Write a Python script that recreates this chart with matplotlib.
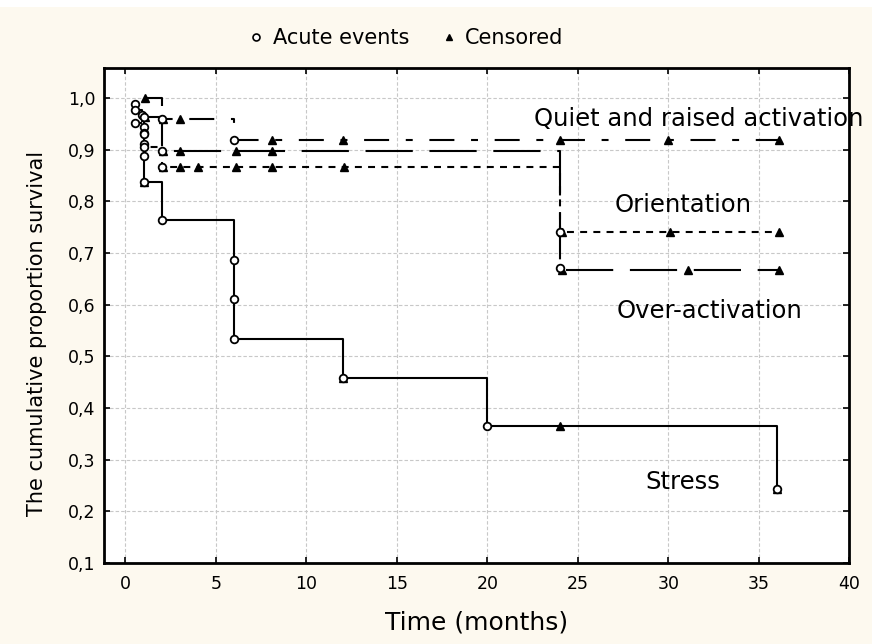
import matplotlib
matplotlib.use("Agg")
import matplotlib.pyplot as plt
from matplotlib.lines import Line2D
from matplotlib.patches import Rectangle
from matplotlib.ticker import FuncFormatter

plt.rcParams['font.family'] = ['DejaVu Sans']
plt.rcParams['lines.scale_dashes'] = False

# Kaplan-Meier points: time (months), cumulative survival, 1 = acute event / 0 = censored
stress_t = [0.5, 0.5, 0.9, 1.0, 1.0, 1.0, 1.0, 1.0, 1.05, 2, 6, 6, 6, 12, 12, 20, 24, 36, 36]
stress_s = [0.989, 0.978, 0.967, 0.945, 0.933, 0.911, 0.889, 0.837, 0.837, 0.764,
            0.687, 0.611, 0.534, 0.458, 0.458, 0.366, 0.366, 0.244, 0.244]
stress_e = [1, 1, 1, 1, 1, 1, 1, 1, 0, 1, 1, 1, 1, 1, 0, 1, 0, 1, 0]

orient_t = [0.5, 1.0, 1.0, 2, 2.05, 3, 4, 6.1, 8.1, 12.1, 24, 24.1, 30.1, 36.1]
orient_s = [0.952, 0.93, 0.905, 0.866, 0.866, 0.866, 0.866, 0.866, 0.866, 0.866,
            0.741, 0.741, 0.741, 0.741]
orient_e = [1, 1, 1, 1, 0, 0, 0, 0, 0, 0, 1, 0, 0, 0]

over_t = [1.0, 1.1, 2, 2.1, 3, 6.1, 8.1, 24, 24.1, 31.1, 36.1]
over_s = [0.963, 0.963, 0.897, 0.897, 0.897, 0.897, 0.897, 0.671, 0.667, 0.667, 0.667]
over_e = [1, 0, 1, 0, 0, 0, 0, 1, 0, 0, 0]

quiet_t = [1.1, 2, 2.05, 3, 6, 8.1, 12, 24, 30, 36.1]
quiet_s = [1.0, 0.96, 0.96, 0.96, 0.92, 0.92, 0.92, 0.92, 0.92, 0.92]
quiet_e = [0, 1, 0, 0, 1, 0, 0, 0, 0, 0]

curves = [
    ("Stress", stress_t, stress_s, stress_e, (0, ())),
    ("Orientation", orient_t, orient_s, orient_e, (0, (5, 4.5))),
    ("Over-activation", over_t, over_s, over_e, (0, (34, 12))),
    ("Quiet and raised activation", quiet_t, quiet_s, quiet_e, (0, (18, 12, 5, 12))),
]

bg = "#fdf9ef"
fig = plt.figure(figsize=(8.72, 6.44), dpi=100, facecolor=bg)
# thin white strip along the top edge of the original image
fig.patches.append(Rectangle((0, 1 - 7 / 644), 1, 7 / 644, transform=fig.transFigure,
                             facecolor="white", edgecolor="none", zorder=0))
ax = fig.add_axes([0.119, 0.126, 0.855, 0.768])
ax.set_facecolor("white")

for name, t, s, e, ls in curves:
    ax.plot(t, s, drawstyle="steps-post", color="black", lw=1.5, linestyle=ls, zorder=2)
    ct = [x for x, f in zip(t, e) if f == 0]
    cs = [y for y, f in zip(s, e) if f == 0]
    et = [x for x, f in zip(t, e) if f == 1]
    es = [y for y, f in zip(s, e) if f == 1]
    ax.plot(ct, cs, "^", color="black", ms=6, ls="none", zorder=3)
    ax.plot(et, es, "o", mfc="white", mec="black", mew=1.3, ms=5.5, ls="none", zorder=4)

ax.text(22.6, 0.96, "Quiet and raised activation", fontsize=17.5, va="center", ha="left",
        clip_on=False)
ax.text(30.8, 0.793, "Orientation", fontsize=17.5, va="center", ha="center")
ax.text(32.3, 0.588, "Over-activation", fontsize=17.5, va="center", ha="center")
ax.text(30.8, 0.257, "Stress", fontsize=17.5, va="center", ha="center")

ax.set_xlim(-1.2, 40)
ax.set_ylim(0.1, 1.058)
ax.set_xticks(range(0, 41, 5))
ax.set_yticks([0.1, 0.2, 0.3, 0.4, 0.5, 0.6, 0.7, 0.8, 0.9, 1.0])
ax.yaxis.set_major_formatter(FuncFormatter(lambda v, p: f"{v:.1f}".replace(".", ",")))
ax.tick_params(direction="in", top=True, right=True, length=4, width=1.2,
               labelsize=12.5)
ax.tick_params(axis="x", pad=9)
ax.tick_params(axis="y", pad=6)
ax.grid(True, color="#c8c8c8", linestyle=(0, (2.5, 1.5)), lw=0.8)
ax.set_axisbelow(True)
for sp in ax.spines.values():
    sp.set_linewidth(2)

ax.set_xlabel("Time (months)", fontsize=18, labelpad=12)
ax.set_ylabel("The cumulative proportion survival", fontsize=15)
ax.yaxis.set_label_coords(-0.076, 0.463)

handles = [
    Line2D([], [], marker="o", mfc="white", mec="black", mew=1.2, ms=5, ls="none"),
    Line2D([], [], marker="^", color="black", ms=5, ls="none"),
]
fig.legend(handles, ["Acute events", "Censored"], loc="center", ncol=2,
           bbox_to_anchor=(0.464, 0.941), frameon=False, fontsize=15,
           handletextpad=0.3, columnspacing=1.4, handlelength=1)

fig.savefig("out.png", dpi=100, facecolor=bg)
